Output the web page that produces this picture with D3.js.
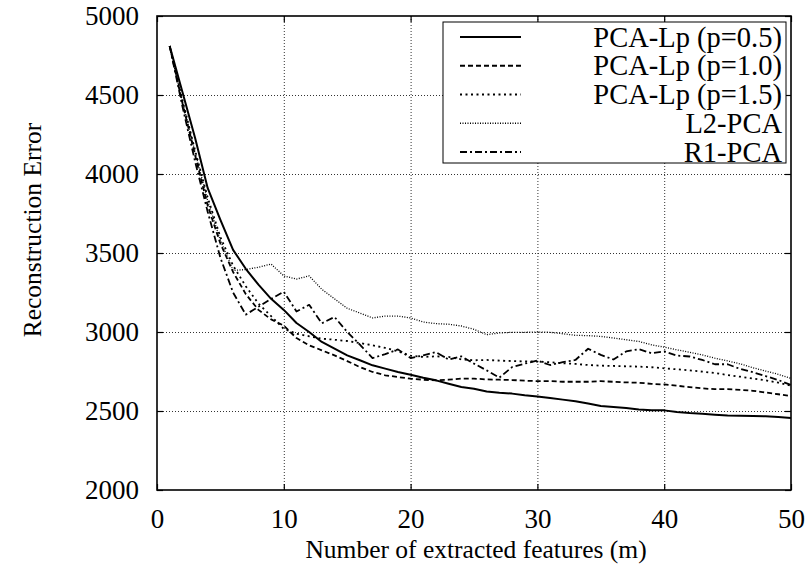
<!DOCTYPE html>
<html>
<head>
<meta charset="utf-8">
<script src="https://cdn.jsdelivr.net/npm/d3@7"></script>
<style>
  body { margin: 0; background: #fff; }
  text { font-family: "Liberation Serif", "Times New Roman", serif; fill: #000; }
</style>
</head>
<body>
<div id="chart"></div>
<script>
// number of extracted features
const features = d3.range(1, 51);

// reconstruction error per method
const pcaLp05 = [4810, 4520, 4230, 3910, 3710, 3520, 3400, 3300, 3210, 3140,
  3057, 3000, 2937, 2895, 2852, 2821, 2789, 2768, 2747, 2730,
  2711, 2694, 2673, 2652, 2641, 2624, 2616, 2610, 2599, 2592,
  2583, 2572, 2562, 2547, 2532, 2526, 2519, 2509, 2504, 2504,
  2494, 2487, 2483, 2477, 2472, 2470, 2468, 2466, 2462, 2455];
const pcaLp10 = [4810, 4450, 4120, 3800, 3560, 3380, 3240, 3140, 3080, 3040,
  2962, 2916, 2884, 2852, 2816, 2778, 2747, 2726, 2715, 2705,
  2698, 2694, 2698, 2705, 2705, 2700, 2698, 2696, 2692, 2689,
  2689, 2685, 2685, 2685, 2689, 2685, 2681, 2679, 2672, 2668,
  2660, 2651, 2643, 2638, 2638, 2634, 2628, 2617, 2606, 2594];
const pcaLp15 = [4810, 4470, 4150, 3850, 3600, 3420, 3290, 3180, 3100, 3020,
  2989, 2973, 2958, 2951, 2943, 2930, 2916, 2899, 2878, 2850,
  2842, 2846, 2842, 2827, 2821, 2823, 2819, 2816, 2814, 2813,
  2809, 2802, 2798, 2791, 2787, 2785, 2783, 2781, 2777, 2770,
  2764, 2757, 2749, 2740, 2728, 2717, 2706, 2694, 2679, 2660];
const l2pca = [4810, 4460, 4140, 3830, 3580, 3390, 3395, 3410, 3430, 3355,
  3335, 3355, 3270, 3210, 3150, 3120, 3089, 3101, 3101, 3089,
  3063, 3053, 3049, 3038, 3017, 2983, 2994, 2998, 2998, 3000,
  2998, 2989, 2979, 2977, 2972, 2962, 2951, 2940, 2919, 2904,
  2887, 2872, 2855, 2834, 2817, 2798, 2774, 2753, 2732, 2706];
const r1pca = [4810, 4430, 4080, 3760, 3470, 3250, 3110, 3160, 3210, 3255,
  3130, 3172, 3055, 3095, 3000, 2920, 2835, 2860, 2890, 2835,
  2852, 2873, 2825, 2846, 2800, 2757, 2711, 2778, 2800, 2819,
  2791, 2809, 2823, 2894, 2855, 2826, 2877, 2891, 2866, 2877,
  2851, 2845, 2823, 2796, 2796, 2766, 2745, 2721, 2696, 2664];

const seriesNames = ["PCA-Lp (p=0.5)", "PCA-Lp (p=1.0)", "PCA-Lp (p=1.5)", "L2-PCA", "R1-PCA"];
const seriesValues = [pcaLp05, pcaLp10, pcaLp15, l2pca, r1pca];

const xTicks = [0, 10, 20, 30, 40, 50];
const yTicks = [2000, 2500, 3000, 3500, 4000, 4500, 5000];

// layout
const w = 811, h = 574;
const pLeft = 157, pRight = 791, pTop = 16, pBottom = 490;

// line styles per series
const dashes = ["none", "5,3", "2,3.5", "1,1.5", "7,3,2,3"];
const widths = [2, 1.8, 1.8, 1.3, 1.8];

const x = d3.scaleLinear().domain([0, 50]).range([pLeft, pRight]);
const y = d3.scaleLinear().domain([2000, 5000]).range([pBottom, pTop]);

const svg = d3.select("#chart").append("svg")
  .attr("width", w).attr("height", h);

// grid
const grid = svg.append("g").attr("stroke", "#333").attr("stroke-width", 1)
  .attr("stroke-dasharray", "1,2");
grid.selectAll(".gx").data(xTicks.slice(1, -1)).enter().append("line")
  .attr("x1", d => x(d) + 0.5).attr("x2", d => x(d) + 0.5)
  .attr("y1", pTop).attr("y2", pBottom);
grid.selectAll(".gy").data(yTicks.slice(1, -1)).enter().append("line")
  .attr("y1", d => y(d) + 0.5).attr("y2", d => y(d) + 0.5)
  .attr("x1", pLeft).attr("x2", pRight);

// axes (inside ticks)
const fs = 27;
const fmt = d3.format("d");
svg.append("g").attr("transform", "translate(" + pLeft + ",0)")
  .call(d3.axisLeft(y).tickValues(yTicks).tickFormat(fmt).tickSize(-6).tickPadding(18));
svg.append("g").attr("transform", "translate(0," + pBottom + ")")
  .call(d3.axisBottom(x).tickValues(xTicks).tickFormat(fmt).tickSize(-6).tickPadding(19));
svg.append("g").attr("transform", "translate(" + pRight + ",0)")
  .call(d3.axisRight(y).tickValues(yTicks).tickSize(-6).tickFormat(""));
svg.append("g").attr("transform", "translate(0," + pTop + ")")
  .call(d3.axisTop(x).tickValues(xTicks).tickSize(-6).tickFormat(""));

svg.selectAll(".domain").remove();
svg.selectAll(".tick line").attr("stroke", "#000").attr("stroke-width", 1.2);
svg.selectAll(".tick text")
  .style("font-family", "'Liberation Serif', 'Times New Roman', serif")
  .style("font-size", fs + "px").attr("fill", "#000");

// series lines
const line = d3.line()
  .x((d, i) => x(features[i]))
  .y(d => y(d));

svg.selectAll(".series").data(seriesValues).enter().append("path")
  .attr("class", "series")
  .attr("d", d => line(d))
  .attr("fill", "none")
  .attr("stroke", "#000")
  .attr("stroke-width", (d, i) => widths[i])
  .attr("stroke-dasharray", (d, i) => dashes[i])
  .attr("stroke-linejoin", "round");

// legend
const legend = svg.append("g");
legend.append("rect")
  .attr("x", 443).attr("y", 22).attr("width", 343).attr("height", 141)
  .attr("fill", "#fff").attr("stroke", "#000").attr("stroke-width", 1);

const rows = legend.selectAll(".row").data(seriesNames).enter().append("g")
  .attr("transform", (d, i) => "translate(0," + (37 + i * 28.75) + ")");
rows.append("line")
  .attr("x1", 460).attr("x2", 521).attr("y1", 0).attr("y2", 0)
  .attr("stroke", "#000")
  .attr("stroke-width", (d, i) => widths[i])
  .attr("stroke-dasharray", (d, i) => dashes[i]);
rows.append("text")
  .attr("x", 782).attr("y", 9.5)
  .attr("text-anchor", "end")
  .style("font-size", "28.5px")
  .text(d => d);

// plot border
svg.append("rect")
  .attr("x", pLeft).attr("y", pTop)
  .attr("width", pRight - pLeft).attr("height", pBottom - pTop)
  .attr("fill", "none").attr("stroke", "#000").attr("stroke-width", 1.6);

// axis titles
svg.append("text")
  .attr("x", (pLeft + pRight) / 2 + 2).attr("y", 558)
  .attr("text-anchor", "middle")
  .style("font-size", "25.5px")
  .text("Number of extracted features (m)");

svg.append("text")
  .attr("transform", "translate(41,230) rotate(-90)")
  .attr("text-anchor", "middle")
  .style("font-size", "25.5px")
  .text("Reconstruction Error");
</script>
</body>
</html>
